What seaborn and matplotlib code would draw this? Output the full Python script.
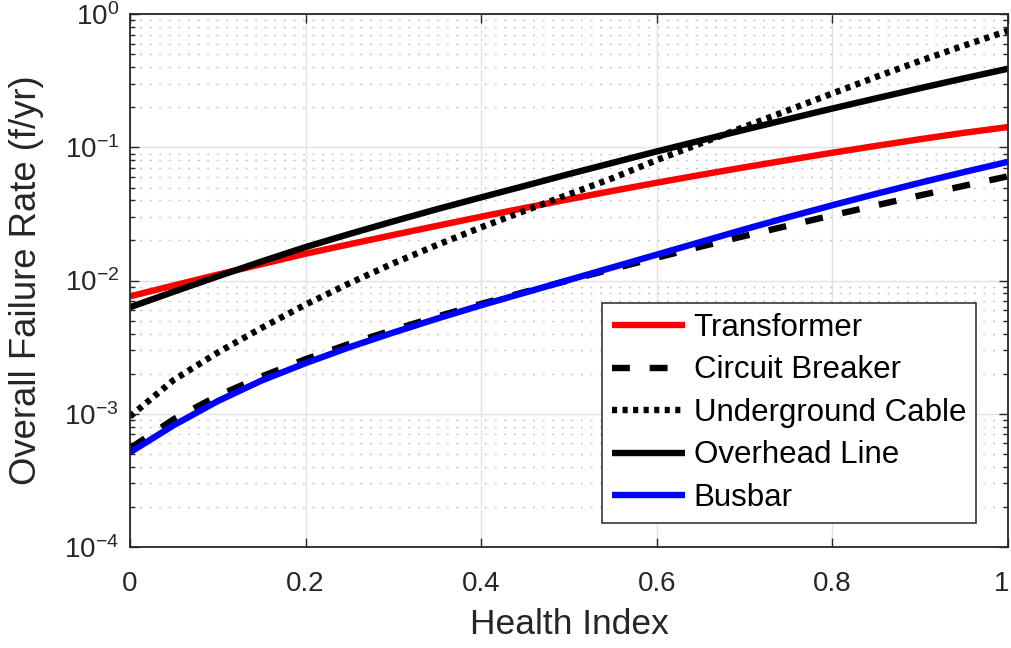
import numpy as np
import pandas as pd
import matplotlib
matplotlib.use("Agg")
import matplotlib.pyplot as plt
import matplotlib.transforms as mtransforms
import seaborn as sns
from matplotlib.ticker import FixedLocator, FuncFormatter, LogLocator, NullFormatter

# Health index grid and overall failure rates (f/yr) per asset class
health_index = [0.0, 0.05, 0.1, 0.15, 0.2, 0.25, 0.3, 0.35, 0.4, 0.45, 0.5,
                0.55, 0.6, 0.65, 0.7, 0.75, 0.8, 0.85, 0.9, 0.95, 1.0]
transformer = [0.00762, 0.00920, 0.01109, 0.01330, 0.01592, 0.01875, 0.02203,
               0.02582, 0.03020, 0.03516, 0.04083, 0.04721, 0.05433, 0.06223,
               0.07096, 0.08054, 0.09120, 0.1028, 0.1153, 0.1288, 0.1422]
circuit_breaker = [0.000550, 0.000912, 0.001365, 0.001905, 0.002570, 0.003350,
                   0.004266, 0.005370, 0.006683, 0.008222, 0.01005, 0.01225,
                   0.01486, 0.01799, 0.02163, 0.02588, 0.03090, 0.03673, 0.04365,
                   0.05152, 0.06067]
underground_cable = [0.000955, 0.001799, 0.002884, 0.004416, 0.006607, 0.009550,
                     0.01349, 0.01854, 0.02512, 0.03350, 0.04446, 0.05888, 0.08035,
                     0.1072, 0.1429, 0.1905, 0.2541, 0.3388, 0.4467, 0.5821, 0.7516]
overhead_line = [0.00631, 0.00826, 0.01076, 0.01393, 0.01786, 0.02239, 0.02786,
                 0.03443, 0.04217, 0.05152, 0.06310, 0.07674, 0.09333, 0.1127,
                 0.1358, 0.1633, 0.1959, 0.2339, 0.2786, 0.3304, 0.3899]
busbar = [0.000513, 0.000822, 0.001245, 0.001778, 0.002399, 0.003162, 0.004074,
          0.005188, 0.006531, 0.008128, 0.01012, 0.01259, 0.01567, 0.01950,
          0.02427, 0.02999, 0.03681, 0.04487, 0.05433, 0.06531, 0.07798]

series_names = ["Transformer", "Circuit Breaker", "Underground Cable", "Overhead Line", "Busbar"]
series_values = [transformer, circuit_breaker, underground_cable, overhead_line, busbar]
x_ticks = [0, 0.2, 0.4, 0.6, 0.8, 1.0]
x_tick_labels = ["0", "0.2", "0.4", "0.6", "0.8", "1"]

df = pd.DataFrame({
    "Health Index": health_index * len(series_names),
    "Rate": sum(series_values, []),
    "Asset": sum([[n] * len(health_index) for n in series_names], []),
})

styles = {
    "Transformer": dict(color="#ff0000", dashes=None),
    "Circuit Breaker": dict(color="#000000", dashes=(2.8, 3.1)),
    "Underground Cable": dict(color="#000000", dashes=(0.8, 0.85)),
    "Overhead Line": dict(color="#000000", dashes=None),
    "Busbar": dict(color="#0000ff", dashes=None),
}

sns.set_style("ticks")
ink = "#262626"
plt.rcParams.update({
    "font.family": ["Liberation Sans", "DejaVu Sans"],
    "mathtext.fontset": "custom",
    "mathtext.rm": "Liberation Sans",
    "mathtext.it": "Liberation Sans:italic",
    "mathtext.bf": "Liberation Sans:bold",
    "axes.edgecolor": ink,
    "xtick.color": ink,
    "ytick.color": ink,
    "text.color": ink,
    "axes.labelcolor": ink,
})

fig = plt.figure(figsize=(10.11, 6.48), dpi=100)
ax = fig.add_axes([0.1286, 0.156, 0.8684, 0.822])

lw = 4.6
handles = []
for name in series_names:
    sub = df[df["Asset"] == name]
    st = styles[name]
    sns.lineplot(data=sub, x="Health Index", y="Rate", ax=ax, color=st["color"],
                 linewidth=lw, label=name, legend=False)
    line = ax.lines[-1]
    if st["dashes"] is not None:
        line.set_dashes(st["dashes"])
        line.set_dash_capstyle("butt")
    line.set_solid_capstyle("butt")
    handles.append(line)

ax.set_yscale("log")
ax.set_xlim(0, 1)
ax.set_ylim(1e-4, 1)

ax.xaxis.set_major_locator(FixedLocator(x_ticks))
ax.xaxis.set_major_formatter(FuncFormatter(
    lambda v, p: x_tick_labels[x_ticks.index(round(v, 1))] if round(v, 1) in x_ticks else ""))
ax.yaxis.set_major_locator(LogLocator(base=10, numticks=10))
ax.yaxis.set_major_formatter(FuncFormatter(lambda v, p: r"$10^{%d}$" % round(np.log10(v))))
ax.yaxis.set_minor_locator(LogLocator(base=10, subs=np.arange(2, 10), numticks=50))
ax.yaxis.set_minor_formatter(NullFormatter())

ax.tick_params(which="both", direction="in", top=True, right=True, width=1.0, color=ink)
ax.tick_params(which="major", length=6.5, labelsize=20)
ax.tick_params(axis="x", which="major", pad=17)
ax.tick_params(axis="y", which="major", pad=8)
ax.tick_params(which="minor", length=3.8)

for sp in ax.spines.values():
    sp.set_linewidth(1.3)
    sp.set_color(ink)
    sp.set_zorder(5)

ax.grid(which="major", color="#e2e2e2", linewidth=1.0, linestyle="-")
ax.yaxis.grid(which="minor", color="#c4c4c4", linewidth=1.0, linestyle=(0, (1.4, 5.5)))
ax.set_axisbelow(True)

ax.set_xlabel("Health Index", fontsize=25.5)
ax.set_ylabel("Overall Failure Rate (f/yr)", fontsize=26.3)
ax.xaxis.set_label_coords(0.5, -0.114)
ax.yaxis.set_label_coords(-0.098, 0.5)

leg = ax.legend(handles, series_names, loc="lower right", bbox_to_anchor=(0.9636, 0.045),
                frameon=True, fancybox=False, framealpha=1, edgecolor=ink, fontsize=22.5,
                handlelength=2.34, handletextpad=0.26, borderpad=0.32, labelspacing=0.40,
                borderaxespad=0)
leg.get_frame().set_linewidth(1.1)
for t in leg.get_texts():
    t.set_color("black")

fig.canvas.draw()
# nudge the last x tick label so it stays inside the canvas
last = ax.xaxis.get_major_ticks()[-1].label1
last.set_transform(last.get_transform() + mtransforms.ScaledTranslation(-6 / 100, 0, fig.dpi_scale_trans))

fig.savefig("out.png", dpi=100)
